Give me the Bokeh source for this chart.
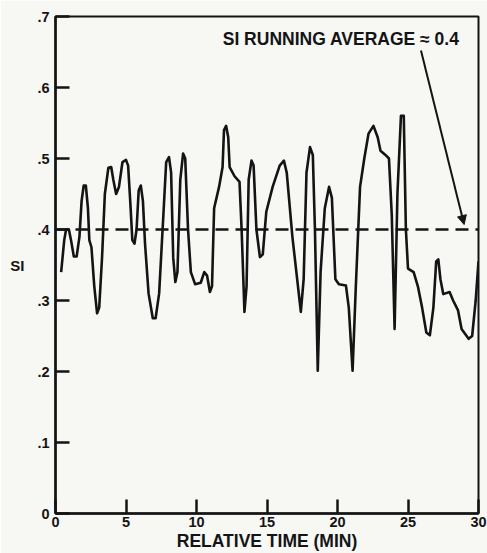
from bokeh.plotting import figure
from bokeh.models import (Range1d, FixedTicker, CustomJSTickFormatter, Label, Arrow,
                          NormalHead)
from bokeh.embed import file_html
from bokeh.resources import INLINE

# ---- data ----
time_min = [0.40, 0.62, 0.75, 0.95, 1.10, 1.30, 1.50, 1.70, 1.85, 2.00, 2.15, 2.30, 2.40, 2.55,
            2.75, 2.95, 3.10, 3.30, 3.50, 3.75, 3.95, 4.10, 4.30, 4.50, 4.75, 5.00, 5.15, 5.30,
            5.45, 5.60, 5.75, 5.90, 6.05, 6.20, 6.35, 6.60, 6.90, 7.10, 7.35, 7.65, 7.85, 8.05,
            8.20, 8.35, 8.50, 8.65, 8.85, 9.05, 9.20, 9.40, 9.60, 9.90, 10.30, 10.55, 10.75,
            10.95, 11.10, 11.25, 11.60, 11.85, 11.95, 12.10, 12.25, 12.35, 12.70, 13.05, 13.20,
            13.40, 13.55, 13.70, 13.90, 14.05, 14.25, 14.50, 14.70, 14.95, 15.40, 15.90, 16.20,
            16.40, 16.80, 17.40, 17.60, 17.80, 18.05, 18.25, 18.40, 18.60, 18.80, 19.10, 19.40,
            19.60, 19.85, 20.10, 20.60, 20.80, 21.07, 21.30, 21.60, 21.90, 22.20, 22.55, 22.85,
            23.05, 23.40, 23.65, 23.85, 24.05, 24.25, 24.50, 24.70, 24.85, 25.00, 25.40, 25.70,
            26.00, 26.30, 26.55, 26.80, 27.00, 27.15, 27.30, 27.50, 27.95, 28.20, 28.55, 28.80,
            29.30, 29.55, 29.80, 30.00]
si_values = [0.340, 0.385, 0.400, 0.400, 0.385, 0.362, 0.362, 0.390, 0.440, 0.462, 0.462, 0.430,
             0.385, 0.375, 0.320, 0.282, 0.290, 0.360, 0.450, 0.487, 0.488, 0.470, 0.450, 0.460,
             0.495, 0.498, 0.490, 0.440, 0.385, 0.380, 0.400, 0.455, 0.462, 0.440, 0.380, 0.310,
             0.275, 0.275, 0.310, 0.420, 0.495, 0.502, 0.480, 0.360, 0.326, 0.340, 0.470, 0.507,
             0.500, 0.400, 0.340, 0.323, 0.325, 0.340, 0.335, 0.312, 0.320, 0.430, 0.460, 0.488,
             0.540, 0.546, 0.530, 0.488, 0.475, 0.467, 0.400, 0.284, 0.320, 0.470, 0.497, 0.490,
             0.400, 0.361, 0.365, 0.425, 0.460, 0.490, 0.497, 0.480, 0.390, 0.284, 0.330, 0.480,
             0.516, 0.505, 0.400, 0.201, 0.340, 0.430, 0.460, 0.445, 0.330, 0.323, 0.321, 0.290,
             0.201, 0.320, 0.460, 0.500, 0.535, 0.546, 0.530, 0.511, 0.505, 0.500, 0.420, 0.260,
             0.450, 0.560, 0.560, 0.400, 0.345, 0.340, 0.320, 0.290, 0.255, 0.251, 0.290, 0.355,
             0.358, 0.330, 0.309, 0.312, 0.300, 0.286, 0.260, 0.246, 0.250, 0.300, 0.355]
running_average = 0.4
avg_span = [0, 30]
x_ticks = [0, 5, 10, 15, 20, 25, 30]
y_ticks = [0, 0.1, 0.2, 0.3, 0.4, 0.5, 0.6, 0.7]
annotation_text = "SI RUNNING AVERAGE \u2248 0.4"

INK = "#141414"
PAPER = "#f7f7f4"
FONT = "Liberation Sans"

p = figure(width=487, height=553, output_backend="svg", toolbar_location=None,
           x_range=Range1d(0, 30), y_range=Range1d(0, 0.7),
           min_border_left=55, min_border_right=9, min_border_top=16, min_border_bottom=40)
p.background_fill_color = PAPER
p.border_fill_color = PAPER
p.outline_line_color = INK
p.outline_line_width = 2
p.xgrid.visible = False
p.ygrid.visible = False

# curve
p.line(time_min, si_values, line_color=INK, line_width=2.6, line_join="round")
# running average dashed line
p.line(avg_span, [running_average, running_average], line_color=INK, line_width=2.4,
       line_dash="13 7")

for ax in (p.xaxis[0], p.yaxis[0]):
    ax.axis_line_color = INK
    ax.axis_line_width = 2.5
    ax.major_tick_line_color = INK
    ax.major_tick_line_width = 2.5
    ax.major_tick_in = 14
    ax.major_tick_out = 0
    ax.minor_tick_line_color = None
    ax.major_label_text_font = FONT
    ax.major_label_text_font_style = "bold"
    ax.major_label_text_font_size = "14.5px"
    ax.major_label_text_color = INK
    ax.axis_label_text_font = FONT
    ax.axis_label_text_font_style = "bold"
    ax.axis_label_text_color = INK

p.xaxis.ticker = FixedTicker(ticks=x_ticks)
p.yaxis.ticker = FixedTicker(ticks=y_ticks)
p.yaxis.formatter = CustomJSTickFormatter(
    code="return tick == 0 ? '0' : tick.toFixed(1).replace(/^0/, '');")
p.xaxis.major_label_standoff = 3
p.yaxis.major_label_standoff = 6

p.xaxis.axis_label = "RELATIVE TIME (MIN)"
p.xaxis.axis_label_text_font_size = "17.5px"
p.xaxis.axis_label_standoff = 1
p.yaxis.axis_label = "SI"
p.yaxis.axis_label_text_font_size = "15px"
p.yaxis.axis_label_orientation = "horizontal"
p.yaxis.axis_label_standoff = 10

# annotation
p.add_layout(Label(x=11.86, y=0.669, text=annotation_text, text_font=FONT,
                   text_font_style="bold", text_font_size="17.5px", text_color=INK,
                   text_baseline="middle", text_align="left"))
p.add_layout(Arrow(x_start=25.92, y_start=0.652, x_end=28.98, y_end=0.407,
                   line_color=INK, line_width=2,
                   end=NormalHead(size=9, fill_color=INK, line_color=INK)))

open("out.html", "w").write(file_html(p, INLINE))
